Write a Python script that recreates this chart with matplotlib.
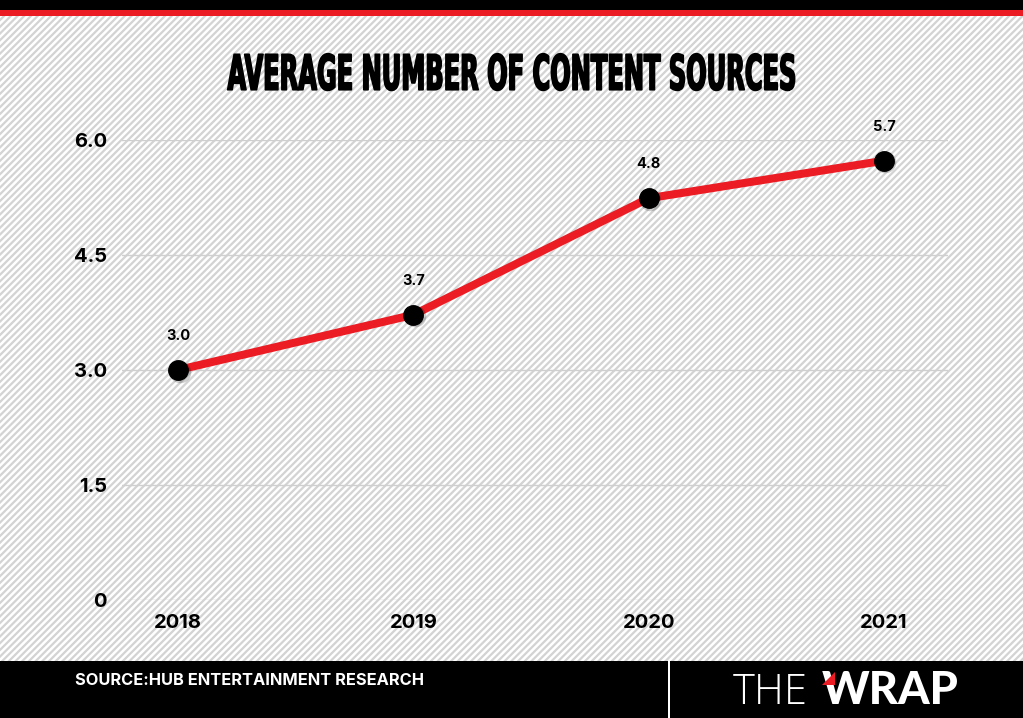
import numpy as np
import matplotlib
matplotlib.use("Agg")
import matplotlib.pyplot as plt
from matplotlib.patches import Rectangle, Polygon
from matplotlib.collections import LineCollection
from matplotlib.patheffects import AbstractPathEffect
from matplotlib.transforms import Affine2D

# chart data (2020 marker sits higher than its printed label in the original)
years = [2018, 2019, 2020, 2021]
plotted = [3.0, 3.72, 5.24, 5.73]
value_labels = ["3.0", "3.7", "4.8", "5.7"]
y_ticks = [0, 1.5, 3.0, 4.5, 6.0]
y_tick_labels = ["0", "1.5", "3.0", "4.5", "6.0"]

title = "AVERAGE NUMBER OF CONTENT SOURCES"
source = "SOURCE:HUB ENTERTAINMENT RESEARCH"

RED = "#ec1c24"
W, H, DPI = 1023, 718, 100


class Squeeze(AbstractPathEffect):
    """rescale text around a pixel point (plus a thin outline), fakes a condensed display face"""
    def __init__(self, sx, sy, cx, cy, stroke=0.0):
        super().__init__()
        self.sx, self.sy = sx, sy
        self.cx, self.cy = cx, cy
        self.stroke = stroke

    def draw_path(self, renderer, gc, tpath, affine, rgbFace=None):
        sq = (Affine2D().translate(-self.cx, -self.cy)
              .scale(self.sx, self.sy).translate(self.cx, self.cy))
        gc0 = renderer.new_gc()
        gc0.copy_properties(gc)
        gc0.set_linewidth(self.stroke)
        gc0.set_foreground(rgbFace)
        renderer.draw_path(gc0, tpath, affine + sq, rgbFace)
        gc0.restore()


fig = plt.figure(figsize=(W / DPI, H / DPI), dpi=DPI)
fig.patch.set_facecolor("white")

# striped background
period = 6.7
segs = []
for c in np.arange(-H, W + H, period):
    segs.append([(c / W, 0), ((c + H) / W, 1)])
lc = LineCollection(segs, colors="#d3d3d3", linewidths=1.6,
                    transform=fig.transFigure, zorder=0)
fig.add_artist(lc)

# top bars
fig.add_artist(Rectangle((0, 1 - 10 / H), 1, 10 / H, transform=fig.transFigure,
                         facecolor="black", edgecolor="none", zorder=1))
fig.add_artist(Rectangle((0, 1 - 16 / H), 1, 6 / H, transform=fig.transFigure,
                         facecolor=RED, edgecolor="none", zorder=1))

# bottom bar
fig.add_artist(Rectangle((0, 0), 1, 57 / H, transform=fig.transFigure,
                         facecolor="black", edgecolor="none", zorder=1))
fig.add_artist(Rectangle((668 / W, 0), 2 / W, 57 / H, transform=fig.transFigure,
                         facecolor="white", edgecolor="none", zorder=2))

ax = fig.add_axes([122 / W, (H - 600) / H, 826 / W, 460 / H])
ax.set_facecolor("none")
ax.set_xlim(2017.762, 2021.272)
ax.set_ylim(0, 6.0)

for t in y_ticks:
    ax.axhline(t, color="#cfcfcf", linewidth=1.0, zorder=1)

ax.plot(years, plotted, color=RED, linewidth=5.8, solid_capstyle="round", zorder=3, clip_on=False)
# soft marker shadow
ax.plot(years, plotted, linestyle="none", marker="o", markersize=15.5,
        markerfacecolor="#00000030", markeredgecolor="none", zorder=3.5, clip_on=False,
        transform=ax.transData + Affine2D().translate(1.5, -1.5))
ax.plot(years, plotted, linestyle="none", marker="o", markersize=14,
        markerfacecolor="black", markeredgecolor="black", zorder=4, clip_on=False)

for x, y, lab in zip(years, plotted, value_labels):
    ax.annotate(lab, (x, y), xytext=(0, 24.5), textcoords="offset points",
                ha="center", va="center", fontsize=10.5, fontweight="bold",
                family=["Inter", "DejaVu Sans"], color="black", zorder=5)

for s in ax.spines.values():
    s.set_visible(False)
ax.set_xticks(years)
ax.set_xticklabels([str(y) for y in years])
ax.set_yticks(y_ticks)
ax.set_yticklabels(y_tick_labels)
ax.tick_params(length=0)
ax.tick_params(axis="x", pad=10)
ax.tick_params(axis="y", pad=10.8)
for lab in ax.get_xticklabels() + ax.get_yticklabels():
    lab.set_fontfamily(["Inter", "DejaVu Sans"])
    lab.set_fontweight("bold")
    lab.set_fontsize(14.5)
    lab.set_color("black")

# title, rescaled to look like a tall condensed display face
title_y = 77
ttl = fig.text(0.5, 1 - title_y / H, title, ha="center", va="center",
               fontsize=36, fontweight="bold",
               family=["Liberation Sans Narrow", "DejaVu Sans"], color="black", zorder=5)
fig.canvas.draw()
tw = ttl.get_window_extent().width
fs = 36 * min(1.0, 900 / tw)
ttl.set_fontsize(fs)
fig.canvas.draw()
tw = ttl.get_window_extent().width
ttl.set_path_effects([Squeeze(568 / tw, 35 / fs, W / 2, H - title_y, stroke=1.2)])

fig.text(75 / W, (H - 680.5) / H, source, ha="left", va="center",
         fontsize=11.8, fontweight="bold", family=["Inter", "DejaVu Sans"],
         color="white", zorder=5)

# logo
fig.text(733 / W, (H - 704) / H, "THE", ha="left", va="baseline",
         fontsize=30, fontweight="light", family=["Open Sans", "DejaVu Sans"],
         color="white", zorder=5)
fig.text(822 / W, (H - 704) / H, "WRAP", ha="left", va="baseline",
         fontsize=32.5, fontweight="black", family=["Lato", "DejaVu Sans"],
         color="white", zorder=5)
fig.add_artist(Polygon([(822 / W, (H - 685) / H), (835 / W, (H - 672) / H),
                        (835 / W, (H - 685) / H)], closed=True, transform=fig.transFigure,
                       facecolor=RED, edgecolor="none", zorder=6))

fig.savefig("out.png", dpi=DPI)
